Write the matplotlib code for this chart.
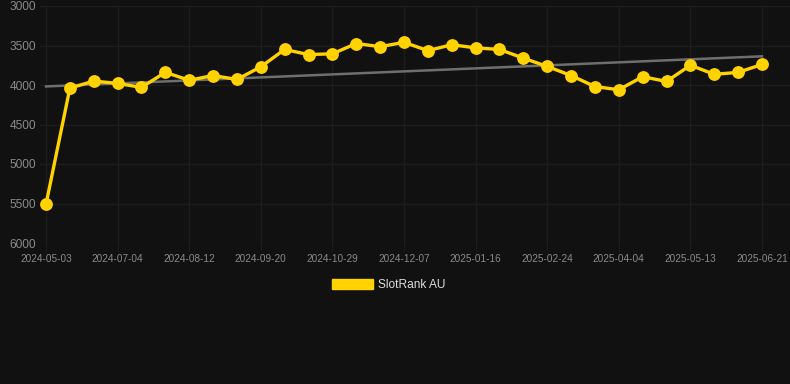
import numpy as np
import matplotlib
matplotlib.use('Agg')
import matplotlib.pyplot as plt
from matplotlib.patches import Patch

# SlotRank AU rank, one point per date
DATES = ['2024-05-03', '2024-06-08', '2024-06-21', '2024-07-04', '2024-07-17',
         '2024-07-30', '2024-08-12', '2024-08-25', '2024-09-07', '2024-09-20',
         '2024-10-03', '2024-10-16', '2024-10-29', '2024-11-11', '2024-11-24',
         '2024-12-07', '2024-12-20', '2025-01-03', '2025-01-16', '2025-01-29',
         '2025-02-11', '2025-02-24', '2025-03-09', '2025-03-22', '2025-04-04',
         '2025-04-17', '2025-04-30', '2025-05-13', '2025-05-26', '2025-06-08',
         '2025-06-21']
RANK = [5510, 4040, 3950, 3980, 4030, 3840, 3940, 3880, 3930, 3770,
        3550, 3615, 3605, 3475, 3515, 3460, 3565, 3490, 3530, 3550,
        3660, 3765, 3880, 4020, 4060, 3895, 3955, 3750, 3865, 3840,
        3740]
Y_TICKS = [3000, 3500, 4000, 4500, 5000, 5500, 6000]

BG = '#111111'
GOLD = '#FFD200'

x = np.arange(len(RANK))
slope, icpt = np.polyfit(x, RANK, 1)

fig = plt.figure(figsize=(7.9, 3.84), dpi=100, facecolor=BG)
ax = fig.add_axes([40 / 790, 1 - 243 / 384, 750 / 790, 237 / 384], facecolor=BG)

ax.plot(x, slope * x + icpt, color='#6e6e6e', lw=1.8, zorder=2)
ax.plot(x, RANK, color=GOLD, lw=2.4, marker='o', ms=8.2, mec=GOLD, zorder=3)

ppx = (762 - 46) / 30
ax.set_xlim(-6 / ppx, 30 + 28 / ppx)
ax.set_ylim(6000, 3000)

ax.set_yticks(Y_TICKS)
ax.set_yticklabels([str(v) for v in Y_TICKS])
ax.set_xticks(x[::3])
ax.set_xticklabels([DATES[i] for i in x[::3]])

for s in ax.spines.values():
    s.set_visible(False)
ax.grid(True, color='#1d1d1d', lw=1)
ax.tick_params(axis='y', length=0, pad=3, labelsize=8.6, labelcolor='#8a8a8a')
ax.tick_params(axis='x', length=6, color='#1d1d1d', pad=2, labelsize=7.2,
               labelcolor='#8a8a8a')
for lbl in ax.get_xticklabels() + ax.get_yticklabels():
    lbl.set_fontfamily('Liberation Sans')

leg = fig.legend(handles=[Patch(color=GOLD, label='SlotRank AU')],
                 loc='center', bbox_to_anchor=(389 / 790, 1 - 285 / 384),
                 frameon=False, handlelength=3.4, handleheight=0.9,
                 handletextpad=0.45, prop={'family': 'Liberation Sans', 'size': 8.6})
for t in leg.get_texts():
    t.set_color('#dddddd')

fig.savefig('out.png', dpi=100, facecolor=BG)
